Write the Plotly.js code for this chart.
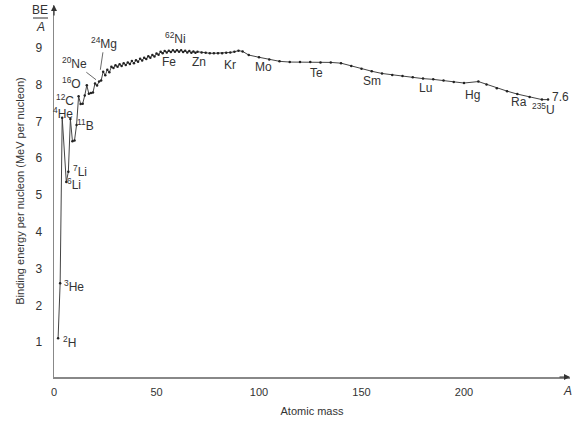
<!DOCTYPE html>
<html><head><meta charset="utf-8">
<script src="https://cdn.plot.ly/plotly-3.0.1.min.js"></script>
<style>html,body{margin:0;padding:0;background:#fff}#chart{width:574px;height:428px}</style>
</head><body><div id="chart"></div>
<script>
// Atomic mass numbers and binding energy per nucleon (MeV)
const massLight = [2,3,4,6,7,8,9,10,11,12,13,14,15,16,17,18,19,20,21,22,23,24];
const beLight   = [1.11,2.60,7.10,5.35,5.63,7.06,6.46,6.48,6.90,7.68,7.47,7.48,7.70,7.98,7.75,7.77,7.78,8.03,7.97,8.08,8.11,8.35];

const massMid = [25,26,27,28,29,30,31,32,33,34,35,36,37,38,39,40,41,42,43,44,45,46,47,48,49,50,51,52,53,54,55,56,57,58,59,60,61,62,63,64,65,66,67,68,69,70];
const beMid   = [8.25,8.40,8.33,8.48,8.45,8.52,8.48,8.55,8.50,8.58,8.53,8.60,8.56,8.64,8.58,8.66,8.62,8.70,8.65,8.73,8.69,8.77,8.73,8.80,8.76,8.84,8.81,8.89,8.85,8.91,8.87,8.92,8.88,8.93,8.89,8.93,8.89,8.93,8.88,8.92,8.87,8.91,8.86,8.90,8.86,8.89];

const massHeavy = [72,74,76,78,80,82,84,86,88,90,92,95,100,105,110,115,120,125,130,135,140,145,150,155,160,165,170,175,180,185,190,195,200,207,211,216,221,226,232,238,241];
const beHeavy   = [8.87,8.86,8.85,8.85,8.85,8.85,8.86,8.87,8.89,8.92,8.90,8.80,8.74,8.68,8.63,8.61,8.61,8.61,8.60,8.60,8.58,8.50,8.43,8.36,8.30,8.26,8.23,8.20,8.16,8.14,8.11,8.07,8.04,8.08,8.00,7.90,7.82,7.74,7.66,7.59,7.59];

const xTicks = [0,50,100,150,200];
const yTicks = [1,2,3,4,5,6,7,8,9];

const mass = massLight.concat(massMid, massHeavy);
const be = beLight.concat(beMid, beHeavy);

// Labels: [text, A, BE]
const labels = [
  ['<sup>2</sup>H', 7.8, 1.0],
  ['<sup>3</sup>He', 9.8, 2.53],
  ['<sup>4</sup>He', 4.4, 7.23],
  ['<sup>6</sup>Li', 9.8, 5.3],
  ['<sup>7</sup>Li', 12.7, 5.65],
  ['<sup>11</sup>B', 15.6, 6.9],
  ['<sup>12</sup>C', 5.4, 7.58],
  ['<sup>16</sup>O', 8.5, 8.04],
  ['<sup>62</sup>Ni', 59.5, 9.27],
  ['Fe', 56, 8.61],
  ['Zn', 70.7, 8.61],
  ['Kr', 85.9, 8.53],
  ['Mo', 102, 8.48],
  ['Te', 128, 8.32],
  ['Sm', 155, 8.1],
  ['Lu', 181, 7.91],
  ['Hg', 204, 7.72],
  ['Ra', 227, 7.53],
  ['<sup>235</sup>U', 238.8, 7.34],
  ['7.6', 247.3, 7.66]
];

const font = {family: 'Liberation Sans, Arial, sans-serif', color: '#333'};
const annotations = labels.map(l => ({
  x: l[1], y: l[2], xref: 'x', yref: 'y', text: l[0], showarrow: false,
  xanchor: 'center', yanchor: 'middle',
  font: Object.assign({size: 12}, font)
}));
// leader lines
annotations.push({x: 20.5, y: 8.13, xref:'x', yref:'y', text:'<sup>20</sup>Ne', showarrow:true,
  arrowhead:0, arrowwidth:0.8, arrowcolor:'#444', ax:-22, ay:-17, font:Object.assign({size:12}, font)});
annotations.push({x: 22.6, y: 8.40, xref:'x', yref:'y', text:'<sup>24</sup>Mg', showarrow:true,
  arrowhead:0, arrowwidth:0.8, arrowcolor:'#444', ax:4, ay:-27, font:Object.assign({size:12}, font)});
// axis arrows
annotations.push({x: 0, y: 10.16, xref:'x', yref:'y', ax: 0, ay: 12, text:'', showarrow:true,
  arrowhead:2, arrowsize:1, arrowwidth:1.2, arrowcolor:'#333'});
annotations.push({x: 251.7, y: 0.054, xref:'x', yref:'y', ax: -12, ay: 0, text:'', showarrow:true,
  arrowhead:2, arrowsize:1, arrowwidth:1.2, arrowcolor:'#333'});
// BE/A and A (pixel positions converted to paper below)
annotations.push({x: 40, y: 10, xref:'paper', yref:'paper', text:'BE', showarrow:false,
  xanchor:'center', yanchor:'middle', font:Object.assign({size:12}, font)});
annotations.push({x: 40, y: 27, xref:'paper', yref:'paper', text:'<i>A</i>', showarrow:false,
  xanchor:'center', yanchor:'middle', font:Object.assign({size:12}, font)});
annotations.push({x: 574, y: 391, xref:'paper', yref:'paper', text:'<i>A</i>', showarrow:false,
  xanchor:'right', yanchor:'middle', font:Object.assign({size:12}, font)});

const W = 574, H = 428, mL = 54, mR = 4, mT = 5, mB = 51;
const pw = W - mL - mR, ph = H - mT - mB;
annotations.forEach(a => {
  if (a.xref === 'paper') {
    a.x = (a.x - mL) / pw;
    a.y = 1 - (a.y - mT) / ph;
  }
});

const shapes = [{type:'line', xref:'paper', yref:'paper',
  x0:(33-mL)/pw, x1:(48-mL)/pw, y0:1-(18-mT)/ph, y1:1-(18-mT)/ph,
  line:{color:'#333', width:1}}];

const trace = {
  x: mass, y: be, type: 'scatter', mode: 'lines+markers',
  line: {color: '#444', width: 1},
  marker: {color: '#222', size: 2.5},
  cliponaxis: false, hoverinfo: 'skip'
};

const layout = {
  width: W, height: H,
  margin: {l: mL, r: mR, t: mT, b: mB},
  paper_bgcolor: '#fff', plot_bgcolor: '#fff',
  showlegend: false,
  font: Object.assign({size: 11}, font),
  xaxis: {range: [0, 251.7], tickvals: xTicks, showgrid: false, zeroline: false,
    showline: true, linecolor: '#888', linewidth: 1.5, ticks: '', ticklabelstandoff: 4,
    tickfont: Object.assign({size: 11}, font),
    title: {text: 'Atomic mass', font: Object.assign({size: 11}, font), standoff: 10}},
  yaxis: {range: [0.054, 10.16], tickvals: yTicks, showgrid: false, zeroline: false,
    showline: true, linecolor: '#888', linewidth: 1.5, ticks: '', ticklabelstandoff: 8,
    tickfont: Object.assign({size: 12}, font),
    title: {text: 'Binding energy per nucleon (MeV per nucleon)', font: Object.assign({size: 11}, font), standoff: 8}},
  annotations: annotations,
  shapes: shapes
};

Plotly.newPlot('chart', [trace], layout, {staticPlot: true, displayModeBar: false});
</script></body></html>
